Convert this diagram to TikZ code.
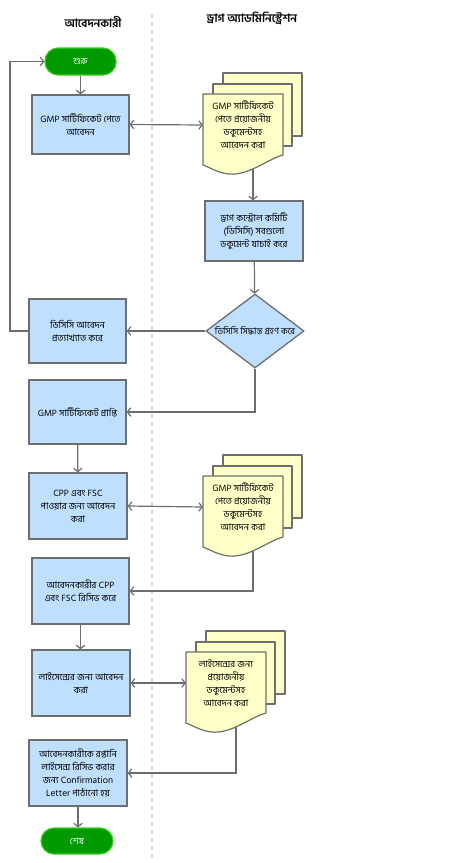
\documentclass[tikz,border=0pt]{standalone}
\usepackage{fontspec}
\setmainfont[Script=Bengali]{Hind Siliguri}
\usetikzlibrary{arrows.meta,shapes.geometric}
\definecolor{linegray}{HTML}{6E6E6E}
\definecolor{boxblue}{HTML}{BFDFFF}
\definecolor{docyellow}{HTML}{FFFFC8}
\definecolor{termgreen}{HTML}{009A00}
\definecolor{termedge}{HTML}{3CCC1E}
\definecolor{lanegray}{HTML}{D2D2E4}
\newcommand{\flowtip}{Straight Barb[length=3.4pt,width=8.5pt]}

\begin{document}
\begin{tikzpicture}[
    x=1pt, y=-1pt,
    font=\fontsize{9.3}{13}\selectfont,
    flow/.style={-{\flowtip}, draw=linegray, line width=1.2pt},
    flowboth/.style={{\flowtip}-{\flowtip}, draw=linegray, line width=1.2pt},
    lane/.style={draw=lanegray, line width=1.4pt, dash pattern=on 4pt off 4pt},
    head/.style={font=\fontsize{11.5}{13}\selectfont\bfseries, inner sep=0pt},
    procbox/.style={draw=linegray, fill=boxblue, line width=1.3pt, minimum width=97pt, minimum height=64pt, align=center, inner sep=2pt},
    termbox/.style={draw=termedge, fill=termgreen, text=white, line width=1.2pt, rounded corners=13pt, minimum width=71pt, minimum height=27pt, inner sep=0pt},
    decision/.style={diamond, draw=linegray, fill=boxblue, line width=1.3pt, minimum width=98pt, minimum height=74pt, inner sep=0pt},
    docsheet/.style={draw=linegray, fill=docyellow, line width=1.2pt, line join=round},
    doctext/.style={align=center, inner sep=0pt},
    docstack/.pic={
      \draw[docsheet] (20,-21) rectangle (99,42);
      \draw[docsheet] (10,-10) rectangle (89,52);
      \draw[docsheet] (0,0) -- (80,0) -- (80,61)
        .. controls (65,65) and (45,82) .. coordinate[pos=0.58] (-out) (26,80)
        .. controls (15,79) and (8,74) .. (0,71) -- cycle;
      \coordinate (-west) at (0,31);
      \node[doctext] (-txt) at (40,31) {#1};
    }
]
  \useasboundingbox (0,0) rectangle (452,863);

  % lane headings and separator
  \node[head] (hleft) at (93,22) {আবেদনকারী};
  \node[head] (hright) at (252,18) {ড্রাগ অ্যাডমিনিস্ট্রেশন};
  \draw[lane] (152,14) -- (152,862);

  % applicant column
  \node[termbox] (start) at (80.5,61.5) {শুরু};
  \node[procbox, minimum height=59pt] (apply) at (80.5,124.5) {GMP সার্টিফিকেট পেতে\\আবেদন};
  \node[procbox] (reject) at (77.5,331) {ডিসিসি আবেদন\\প্রত্যাখ্যাত করে};
  \node[procbox] (granted) at (77.5,412) {GMP সার্টিফিকেট প্রাপ্তি};
  \node[procbox, minimum width=98pt, minimum height=66pt] (cppapply) at (78,506) {CPP এবং FSC\\পাওয়ার জন্য আবেদন\\করা};
  \node[procbox, minimum height=66pt] (cppget) at (80.5,591) {আবেদনকারীর CPP\\এবং FSC রিসিভ করে};
  \node[procbox, minimum width=98pt, minimum height=66pt] (licapply) at (81,683) {লাইসেন্সের জন্য আবেদন\\করা};
  \node[procbox, minimum width=98pt, minimum height=66pt] (confirm) at (78,773) {আবেদনকারীকে রপ্তানি\\লাইসেন্স  রিসিভ করার\\জন্য Confirmation\\Letter পাঠানো হয়};
  \node[termbox, minimum width=72pt, minimum height=26pt] (finish) at (77,841) {শেষ};

  % drug administration column
  \pic (doc1) at (203,94) {docstack={GMP সার্টিফিকেট\\পেতে প্রয়োজনীয়\\ডকুমেন্টসহ\\আবেদন করা}};
  \node[procbox, minimum width=98pt, minimum height=60pt] (verify) at (254,231) {ড্রাগ কন্ট্রোল কমিটি\\(ডিসিসি) সবগুলো\\ডকুমেন্ট  যাচাই করে};
  \node[decision] (decide) at (255,331) {};
  \node[inner sep=0pt, font=\fontsize{9}{13}\selectfont] (decidetxt) at (decide.center) {ডিসিসি সিদ্ধান্ত গ্রহণ করে};
  \pic (doc2) at (203,476) {docstack={GMP সার্টিফিকেট\\পেতে প্রয়োজনীয়\\ডকুমেন্টসহ\\আবেদন করা}};
  \pic (doc3) at (186,652) {docstack={লাইসেন্সের জন্য\\প্রয়োজনীয়\\ডকুমেন্টসহ\\আবেদন করা}};

  % connectors
  \coordinate (loopx) at (10,0);
  \draw[flow] (start) -- (apply);
  \draw[flowboth] (apply.east) -- (doc1-west);
  \draw[flow] (doc1-out) -- (doc1-out |- verify.north);
  \draw[flow] (verify) -- (decide);
  \draw[flow] (decide.west) -- (decide.west -| reject.east);
  \draw[flow] (reject.west) -- (reject.west -| loopx) |- (start.west);
  \draw[flow] (decide.south) |- (granted.east);
  \draw[flow] (granted) -- (cppapply);
  \draw[flowboth] (cppapply.east) -- (doc2-west);
  \draw[flow] (doc2-out) |- (cppget.east);
  \draw[flow] (cppget.south) -- (cppget.south |- licapply.north);
  \draw[flowboth] (licapply.east) -- (doc3-west);
  \draw[flow] (doc3-out) |- (confirm.east);
  \draw[flow] (confirm.south) -- (confirm.south |- finish.north);
\end{tikzpicture}
\end{document}
